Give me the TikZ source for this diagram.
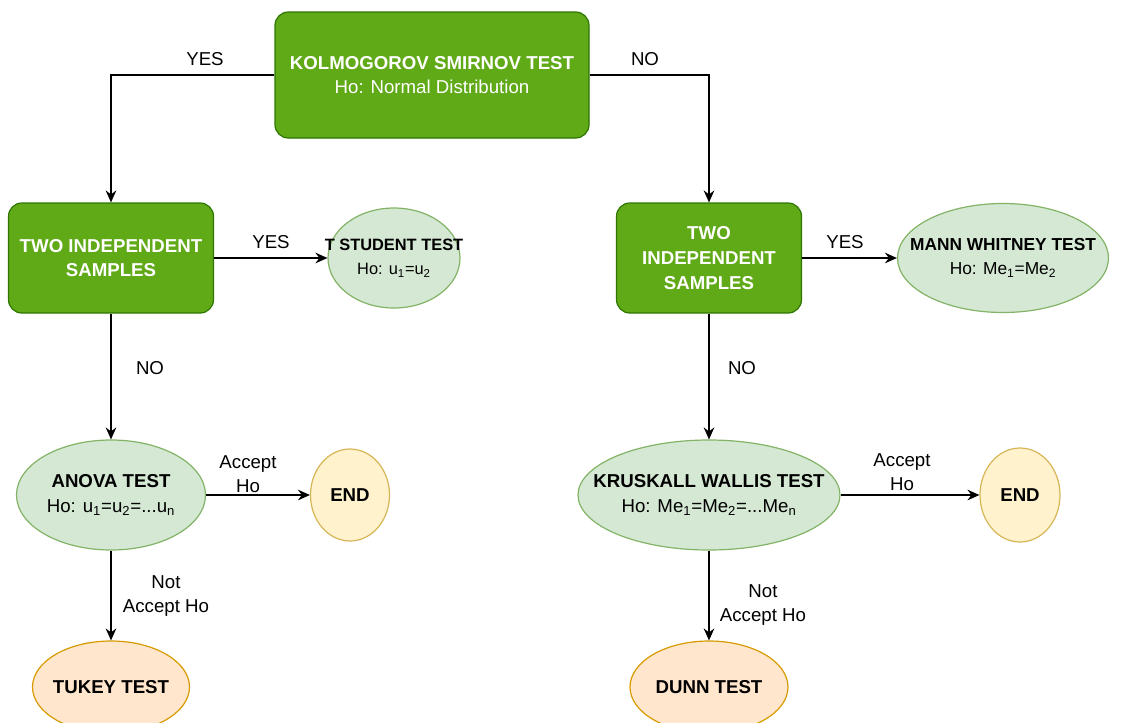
\documentclass[tikz,border=0pt]{standalone}
\usepackage{fontspec}
\setmainfont{Liberation Sans}
\usetikzlibrary{arrows.meta,shapes.geometric}

\definecolor{boxfill}{HTML}{60A917}
\definecolor{boxline}{HTML}{2D7600}
\definecolor{testfill}{HTML}{D5E8D4}
\definecolor{testline}{HTML}{82B366}
\definecolor{endfill}{HTML}{FFF2CC}
\definecolor{endline}{HTML}{D6B656}
\definecolor{posthocfill}{HTML}{FFE6CC}
\definecolor{posthocline}{HTML}{D79B00}

\tikzset{every picture/.style={line width=0.9pt}}
\tikzset{
  question/.style={draw=boxline, fill=boxfill, rounded corners=10pt, text=white, font=\bfseries, align=center, inner sep=0pt},
  testell/.style={draw=testline, fill=testfill, ellipse, inner sep=0pt},
  endell/.style={draw=endline, fill=endfill, ellipse, inner sep=0pt},
  posthocell/.style={draw=posthocline, fill=posthocfill, ellipse, inner sep=0pt},
  flow/.style={-{Stealth[length=9pt,width=8pt,inset=3pt]}},
  answer/.style={align=center}
}

\begin{document}
\fontsize{14}{18.5}\selectfont
\begin{tikzpicture}[x=0.75pt,y=0.75pt,yscale=-1,xscale=1]
\useasboundingbox (0,0) rectangle (1132,722);

%Shape: Rounded Rect [id:ks]
\node [question, minimum width=235.5pt, minimum height=94.5pt] (ks) at (432,75) {KOLMOGOROV SMIRNOV TEST\\\mdseries Ho: Normal Distribution};
%Shape: Rounded Rect [id:sampY]
\node [question, minimum width=153.75pt, minimum height=82.5pt] (sampY) at (111,258) {TWO INDEPENDENT\\SAMPLES};
%Shape: Rounded Rect [id:sampN]
\node [question, minimum width=138.75pt, minimum height=82.5pt] (sampN) at (709,258) {TWO\\INDEPENDENT\\SAMPLES};

%Shape: Ellipse [id:tstudent]
\node [testell, minimum width=99pt, minimum height=75pt, label={[answer, font=\fontsize{12.3}{18.5}\selectfont]center:{\textbf{T STUDENT TEST}\\Ho: u\textsubscript{1}=u\textsubscript{2}}}] (tstudent) at (394,258) {};
%Shape: Ellipse [id:mann]
\node [testell, minimum width=158.25pt, minimum height=81.75pt, label={[answer, font=\fontsize{13}{18.5}\selectfont]center:{\textbf{MANN WHITNEY TEST}\\Ho: Me\textsubscript{1}=Me\textsubscript{2}}}] (mann) at (1003,258) {};
%Shape: Ellipse [id:anova]
\node [testell, minimum width=141.75pt, minimum height=82.5pt, label={[answer]center:{\textbf{ANOVA TEST}\\Ho: u\textsubscript{1}=u\textsubscript{2}=...u\textsubscript{n}}}] (anova) at (111,495) {};
%Shape: Ellipse [id:kw]
\node [testell, minimum width=196.5pt, minimum height=82.5pt, label={[answer]center:{\textbf{KRUSKALL WALLIS TEST}\\Ho: Me\textsubscript{1}=Me\textsubscript{2}=...Me\textsubscript{n}}}] (kw) at (709,495) {};

%Shape: Ellipse [id:endA]
\node [endell, minimum width=59.25pt, minimum height=69pt, label={center:\textbf{END}}] (endA) at (350,495) {};
%Shape: Ellipse [id:endB]
\node [endell, minimum width=60pt, minimum height=70.5pt, label={center:\textbf{END}}] (endB) at (1020,495) {};
%Shape: Ellipse [id:tukey]
\node [posthocell, minimum width=117.75pt, minimum height=69pt, label={center:\textbf{TUKEY TEST}}] (tukey) at (111,687) {};
%Shape: Ellipse [id:dunn]
\node [posthocell, minimum width=118.5pt, minimum height=69pt, label={center:\textbf{DUNN TEST}}] (dunn) at (709,687) {};

%Straight Lines [id:ks-sampY]
\draw [flow] (ks.west) -| (sampY.north);
%Straight Lines [id:ks-sampN]
\draw [flow] (ks.east) -| (sampN.north);
%Straight Lines [id:sampY-tstudent]
\draw [flow] (sampY.east) -- (tstudent.west);
%Straight Lines [id:sampN-mann]
\draw [flow] (sampN.east) -- (mann.west);
%Straight Lines [id:sampY-anova]
\draw [flow] (sampY.south) -- (anova.north);
%Straight Lines [id:sampN-kw]
\draw [flow] (sampN.south) -- (kw.north);
%Straight Lines [id:anova-endA]
\draw [flow] (anova.east) -- (endA.west);
%Straight Lines [id:kw-endB]
\draw [flow] (kw.east) -- (endB.west);
%Straight Lines [id:anova-tukey]
\draw [flow] (anova.south) -- (tukey.north);
%Straight Lines [id:kw-dunn]
\draw [flow] (kw.south) -- (dunn.north);

% Text Node
\draw (205,59) node [answer] (yesA) {YES};
% Text Node
\draw (645,59) node [answer] (noA) {NO};
% Text Node
\draw (271,242) node [answer] (yesB) {YES};
% Text Node
\draw (845,242) node [answer] (yesC) {YES};
% Text Node
\draw (150,368) node [answer] (noB) {NO};
% Text Node
\draw (742,368) node [answer] (noC) {NO};
% Text Node
\draw (248,474) node [answer] (accA) {Accept\\Ho};
% Text Node
\draw (902,472) node [answer] (accB) {Accept\\Ho};
% Text Node
\draw (166,596) node [answer] (notA) {Not\\Accept Ho};
% Text Node
\draw (763,605) node [answer] (notB) {Not\\Accept Ho};

\end{tikzpicture}
\end{document}
